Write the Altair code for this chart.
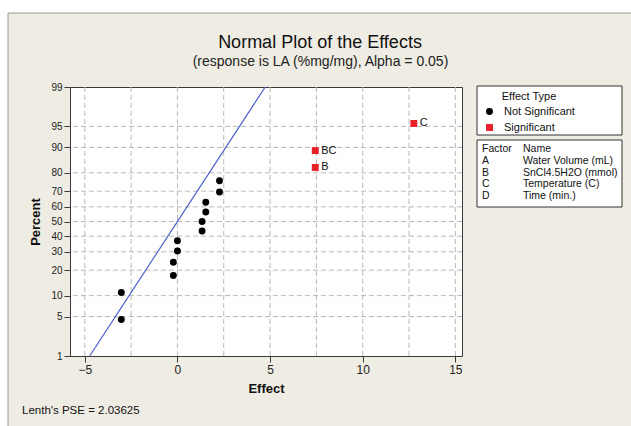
import altair as alt
import pandas as pd
from statistics import NormalDist

# --- effect estimates and their normal-plot percents ---
ns_effects = [-3.03, -3.03, -0.22, -0.22, 0.0, 0.0, 1.33, 1.33, 1.53, 1.53, 2.27, 2.27]
ns_percents = [4.5, 11.0, 17.5, 24.0, 30.5, 37.0, 43.5, 50.0, 56.5, 63.0, 69.5, 76.0]
sig_terms = ["B", "BC", "C"]
sig_effects = [7.44, 7.44, 12.76]
sig_percents = [82.5, 89.0, 95.5]

lenth_pse = 2.03625
line_percents = [1, 99]
percent_ticks = [1, 5, 10, 20, 30, 40, 50, 60, 70, 80, 90, 95, 99]
effect_ticks = [-5, 0, 5, 10, 15]
effect_grid = [-5, -2.5, 0, 2.5, 5, 7.5, 10, 12.5, 15]

factors = ["A", "B", "C", "D"]
factor_names = ["Water Volume (mL)", "SnCl4.5H2O (mmol)", "Temperature (C)", "Time (min.)"]

title_text = "Normal Plot of the Effects"
subtitle_text = "(response is LA (%mg/mg), Alpha = 0.05)"

FONT = "Liberation Sans"
W, H = 392, 269
nd = NormalDist()


def zscore(p):
    return nd.inv_cdf(p / 100.0)


points = pd.DataFrame({
    "Effect": ns_effects + sig_effects,
    "Percent": ns_percents + sig_percents,
    "Effect Type": ["Not Significant"] * len(ns_effects) + ["Significant"] * len(sig_effects),
    "Term": [""] * len(ns_effects) + sig_terms,
})
points["z"] = [zscore(p) for p in points["Percent"]]

fit = pd.DataFrame({"Percent": line_percents})
fit["z"] = [zscore(p) for p in fit["Percent"]]
fit["Effect"] = fit["z"] * lenth_pse

grid_x = pd.DataFrame({"Effect": effect_grid})
grid_y = pd.DataFrame({"z": [zscore(p) for p in percent_ticks[1:-1]]})

zmin, zmax = zscore(percent_ticks[0]), zscore(percent_ticks[-1])
x_scale = alt.Scale(domain=[-5.8, 15.36], nice=False, zero=False)
y_scale = alt.Scale(domain=[zmin, zmax], nice=False, zero=False)

# shared axes so every layer agrees on ticks and labels
x_axis = alt.Axis(values=effect_ticks, title="Effect", grid=False, labelOverlap=False,
                  labelFontSize=12, labelPadding=2,
                  titleX=W / 2, titleY=32, titleBaseline="middle")
y_axis = alt.Axis(values=[zscore(p) for p in percent_ticks], title="Percent", grid=False,
                  labelOverlap=False, labelFontSize=10, labelPadding=2,
                  labelExpr="format(round(cumulativeNormal(datum.value) * 100), 'd')",
                  titleX=-35, titleY=H / 2, titleAngle=-90, titleBaseline="middle",
                  titleAlign="center")


def xenc():
    return alt.X("Effect:Q", scale=x_scale, axis=x_axis)


def yenc():
    return alt.Y("z:Q", scale=y_scale, axis=y_axis)


one = alt.Data(values=[{}])

# page decoration: white margin and the grey frame edge
margin_top = alt.Chart(one).mark_rect(color="white").encode(
    x=alt.value(-70), x2=alt.value(631 - 70), y=alt.value(-87), y2=alt.value(13 - 87))
margin_left = alt.Chart(one).mark_rect(color="white").encode(
    x=alt.value(-70), x2=alt.value(8 - 70), y=alt.value(-87), y2=alt.value(426 - 87))
frame_top = alt.Chart(one).mark_rule(color="#9a9a9a").encode(
    x=alt.value(8 - 70), x2=alt.value(631 - 70), y=alt.value(13 - 87))
frame_left = alt.Chart(one).mark_rule(color="#9a9a9a").encode(
    x=alt.value(8 - 70), y=alt.value(13 - 87), y2=alt.value(426 - 87))

# heading
title_mark = alt.Chart(one).mark_text(
    align="center", baseline="middle", fontSize=18, font=FONT, color="#111"
).encode(x=alt.value(250), y=alt.value(-44), text=alt.value(title_text))
subtitle_mark = alt.Chart(one).mark_text(
    align="center", baseline="middle", fontSize=14, font=FONT, color="#222"
).encode(x=alt.value(250.5), y=alt.value(-25), text=alt.value(subtitle_text))

# dashed reference grid
vgrid = alt.Chart(grid_x).mark_rule(color="#b8b8b8", strokeDash=[5, 3], strokeWidth=1).encode(
    x=xenc())
hgrid = alt.Chart(grid_y).mark_rule(color="#b8b8b8", strokeDash=[5, 3], strokeWidth=1).encode(
    y=yenc())

fit_line = alt.Chart(fit).mark_line(color="#4b5ec6", strokeWidth=1.2).encode(
    x=xenc(), y=yenc())

type_legend = alt.Legend(title="Effect Type", orient="none", legendX=414, legendY=4,
                         titleAnchor="middle")

dots = alt.Chart(points).mark_point(filled=True, opacity=1, size=48).encode(
    x=xenc(),
    y=yenc(),
    color=alt.Color("Effect Type:N",
                    scale=alt.Scale(domain=["Not Significant", "Significant"],
                                    range=["#000000", "#e8202a"]),
                    legend=type_legend),
    shape=alt.Shape("Effect Type:N",
                    scale=alt.Scale(domain=["Not Significant", "Significant"],
                                    range=["circle", "square"]),
                    legend=type_legend),
)

term_labels = alt.Chart(points).transform_filter("datum.Term != ''").mark_text(
    align="left", baseline="middle", dx=6, fontSize=11, font=FONT, color="#111"
).encode(x=xenc(), y=yenc(), text="Term:N")

# boxes on the right: effect-type key and factor table
key_box = alt.Chart(one).mark_rect(fill="white", stroke="#333333", strokeWidth=1).encode(
    x=alt.value(407), x2=alt.value(552), y=alt.value(-1), y2=alt.value(48))
factor_box = alt.Chart(one).mark_rect(fill="white", stroke="#333333", strokeWidth=1).encode(
    x=alt.value(407), x2=alt.value(552), y=alt.value(53), y2=alt.value(120))
factor_col = alt.Chart(one).mark_text(
    align="left", baseline="top", fontSize=10.5, font=FONT, lineHeight=11.8, color="#111"
).encode(x=alt.value(412), y=alt.value(57), text=alt.value(["Factor"] + factors))
name_col = alt.Chart(one).mark_text(
    align="left", baseline="top", fontSize=10.5, font=FONT, lineHeight=11.8, color="#111"
).encode(x=alt.value(453), y=alt.value(57), text=alt.value(["Name"] + factor_names))

pse_text = alt.Chart(one).mark_text(
    align="left", baseline="middle", fontSize=11.5, font=FONT, color="#111"
).encode(x=alt.value(-48), y=alt.value(324), text=alt.value(f"Lenth's PSE = {lenth_pse}"))

chart = alt.layer(
    margin_top, margin_left, frame_top, frame_left, title_mark, subtitle_mark,
    vgrid, hgrid, fit_line, dots, term_labels,
    key_box, factor_box, factor_col, name_col, pse_text,
).properties(
    width=W, height=H,
    autosize=alt.AutoSizeParams(type="none"),
    padding={"left": 70, "top": 87, "right": 631 - 70 - W, "bottom": 426 - 87 - H},
).configure(
    background="#efece3",
).configure_view(
    fill="white", stroke="#3a3a3a", strokeWidth=1,
).configure_axis(
    labelFont=FONT, labelColor="#222", labelOverlap=False,
    titleFont=FONT, titleFontSize=13, titleFontWeight="bold", titleColor="#111",
    tickColor="#3a3a3a", domainColor="#3a3a3a", tickSize=6,
).configure_legend(
    titleFont=FONT, titleFontSize=11, titleFontWeight="normal", titleColor="#111",
    labelFont=FONT, labelFontSize=11, labelColor="#111",
    symbolSize=48, labelOffset=9, rowPadding=4, titlePadding=4, padding=0,
    symbolStrokeWidth=0,
)

chart.save("out.html", embed_options={"renderer": "svg", "actions": False})
